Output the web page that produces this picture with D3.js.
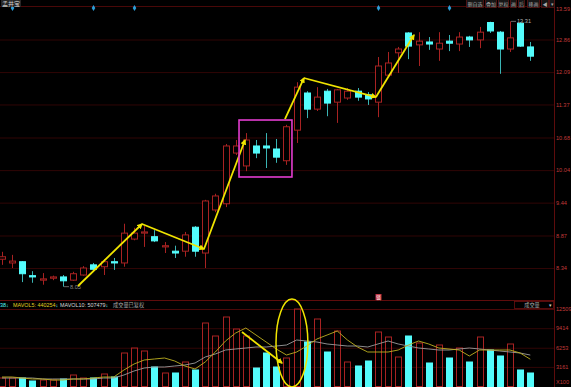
<!DOCTYPE html>
<html>
<head>
<meta charset="utf-8">
<script src="https://cdn.jsdelivr.net/npm/d3@7"></script>
<style>
  body { margin: 0; background: #000; }
  svg { display: block; font-family: "Liberation Sans", Arial, sans-serif; }
</style>
</head>
<body>
<svg id="chart" width="571" height="387"></svg>
<script>
// daily bars
const openP  = [8.48, 8.42, 8.44, 8.22, 8.15, 8.18, 8.20, 8.15, 8.23, 8.39, 8.36, 8.44, 8.42, 8.81, 8.91, 8.85, 8.68, 8.61, 8.61, 9.01,
                8.58, 9.31, 9.42, 10.37, 10.12, 10.51, 10.51, 10.45, 10.22, 10.83, 11.62, 11.27, 11.66, 11.42, 11.51, 11.66, 11.58, 11.42, 12.02, 12.54,
                13.02, 12.73, 12.80, 12.63, 12.82, 12.75, 12.92, 12.85, 13.28, 13.04, 12.63, 13.26, 12.68];
const closeP = [8.52, 8.45, 8.25, 8.20, 8.17, 8.20, 8.14, 8.25, 8.34, 8.32, 8.44, 8.42, 8.91, 8.91, 8.93, 8.78, 8.70, 8.58, 8.88, 8.61,
                9.47, 9.56, 10.51, 10.51, 10.63, 10.37, 10.47, 10.29, 10.90, 11.75, 11.27, 11.53, 11.40, 11.69, 11.66, 11.53, 11.49, 12.23, 12.30, 12.63,
                12.70, 12.82, 12.75, 12.77, 12.77, 12.92, 12.85, 13.04, 13.07, 12.63, 12.90, 12.70, 12.46];
const highP  = [8.60, 8.55, 8.45, 8.29, 8.26, 8.22, 8.23, 8.28, 8.37, 8.42, 8.48, 8.50, 9.07, 9.00, 9.03, 8.96, 8.76, 8.70, 8.93, 9.03,
                9.49, 9.60, 10.55, 10.63, 10.77, 10.63, 10.77, 10.65, 10.94, 11.86, 11.66, 11.75, 11.71, 11.71, 11.73, 11.73, 11.64, 12.44, 12.56, 12.68,
                13.04, 13.04, 12.92, 13.04, 12.97, 13.04, 12.95, 13.17, 13.30, 13.07, 13.31, 13.29, 12.80];
const lowP   = [8.39, 8.34, 8.12, 8.11, 8.08, 8.15, 8.05, 8.14, 8.22, 8.28, 8.23, 8.31, 8.36, 8.79, 8.68, 8.76, 8.58, 8.50, 8.52, 8.52,
                8.34, 9.27, 9.36, 10.33, 10.02, 10.27, 10.08, 10.18, 10.14, 10.57, 11.08, 11.23, 11.12, 10.98, 11.47, 11.45, 11.36, 11.10, 11.98, 12.07,
                12.39, 12.23, 12.61, 12.35, 12.58, 12.58, 12.68, 12.65, 13.02, 12.05, 12.56, 12.68, 12.35];
// volume in lots (x100)
const volume = [1372, 1372, 1372, 888, 1049, 1049, 1211, 1856, 1372, 1372, 2018, 1533, 5407, 6214, 5730, 3147, 2179, 2179, 3954, 2663,
                10249, 8151, 11217, 9281, 8151, 2986, 5407, 3147, 4600, 12509, 7182, 10895, 5568, 8958, 3954, 3309, 4116, 8796, 7989, 4761,
                8151, 7021, 3793, 6698, 4600, 6214, 3954, 7989, 5891, 4923, 6860, 2663, 2179];
const mavol5 = [1533, 1533, 1372, 1211, 1211, 1049, 1049, 1211, 1211, 1372, 1533, 1533, 2663, 3632, 4277, 4439, 4600, 4116, 3309, 2825,
                3954, 5568, 7344, 8635, 9442, 8312, 7182, 6053, 5084, 5568, 6537, 7667, 8312, 8958, 7505, 6375, 5568, 5568, 5568, 5891,
                6698, 7344, 6860, 6214, 6053, 5891, 4923, 5891, 5891, 5891, 5891, 5407, 4403];
const mavol10 = [1372, 1372, 1372, 1372, 1211, 1211, 1211, 1211, 1211, 1211, 1372, 1372, 1856, 2502, 2986, 3147, 3147, 3309, 3470, 3793,
                 4761, 5246, 5891, 6053, 6214, 6375, 6375, 6537, 6698, 7505, 7344, 7182, 6860, 6698, 6537, 6537, 6375, 6860, 7344, 6860,
                 6537, 6214, 6053, 5891, 5891, 6053, 6214, 6053, 5891, 5730, 5568, 5407, 5075];

const priceTicks = [13.59, 12.86, 12.09, 11.37, 10.68, 10.04, 9.44, 8.87, 8.34];
const volTicks = [12509, 9414, 6253, 3161];
const markerIdx = [1, 9, 13, 37, 44];
const highIdx = 50, lowIdx = 6;

// hand drawn annotations, in [bar index, price]
const arrowFrom = [[7.48, 8.06], [13.78, 9.065], [19.88, 8.646], [27.85, 11.06], [29.72, 11.955], [36.81, 11.532]];
const arrowTo   = [[13.78, 9.065], [19.88, 8.646], [23.92, 10.63], [29.72, 11.955], [36.81, 11.532], [40.55, 12.97]];
const boxIdx = [23.33, 28.54], boxPrice = [11.04, 9.91];
// in [bar index, volume]
const volArrow = [[23.62, 8796], [27.56, 3793]];
const ellipse = { idx: 28.54, vol: 7021, idxR: 1.57, volTop: 14123 };

const RED = '#a82222', CYAN = '#54fcfc', CYAN_WICK = '#3ab4b4', GRID = '#300505',
      LINE = '#5e0c0c', AXIS_TXT = '#c23a3a', YEL = '#f0e400';

const svg = d3.select('#chart');
svg.append('rect').attr('width', 571).attr('height', 387).attr('fill', '#000');

const n = openP.length;
const axisX = 554;
const x = d3.scaleLinear().domain([0, n - 1]).range([2, 530.3]);
const y = d3.scaleLog().domain([8.34, 12.86]).range([268, 39.5]);
const yv = d3.scaleLinear().domain([0, 12509]).range([386.5, 309]);
const cx = i => Math.round(x(i));

// grid lines
svg.append('g').attr('transform', `translate(${axisX},0)`)
  .call(d3.axisLeft(y).tickValues(priceTicks.slice(1)).tickSize(axisX).tickFormat(''))
  .call(g => g.select('.domain').remove())
  .selectAll('line').attr('stroke', GRID);
svg.append('g').attr('transform', `translate(${axisX},0)`)
  .call(d3.axisLeft(yv).tickValues(volTicks.slice(1)).tickSize(axisX).tickFormat(''))
  .call(g => g.select('.domain').remove())
  .selectAll('line').attr('stroke', GRID);

svg.append('line').attr('x1', 0).attr('x2', axisX).attr('y1', 6.5).attr('y2', 6.5).attr('stroke', '#4a0808');
svg.append('line').attr('x1', 0).attr('x2', axisX).attr('y1', 300.5).attr('y2', 300.5).attr('stroke', LINE);
svg.append('line').attr('x1', 0).attr('x2', axisX).attr('y1', 309.5).attr('y2', 309.5).attr('stroke', '#4a0808');
svg.append('line').attr('x1', axisX + 0.5).attr('x2', axisX + 0.5).attr('y1', 0).attr('y2', 387).attr('stroke', LINE);

// right axes
const pAxis = svg.append('g').attr('transform', `translate(${axisX},0)`)
  .call(d3.axisRight(y).tickValues(priceTicks).tickSize(0).tickPadding(2).tickFormat(d3.format('.2f')));
pAxis.select('.domain').remove();
pAxis.selectAll('text').attr('fill', AXIS_TXT).style('font-size', '5.6px');
pAxis.selectAll('.tick').filter(d => d === priceTicks[0]).attr('transform', `translate(0,${Math.max(y(priceTicks[0]), 7)})`);
pAxis.selectAll('.tick').filter(d => d === priceTicks[0]).select('text').attr('dy', '0.1em');

const vAxis = svg.append('g').attr('transform', `translate(${axisX},0)`)
  .call(d3.axisRight(yv).tickValues(volTicks).tickSize(0).tickPadding(2).tickFormat(d3.format('d')));
vAxis.select('.domain').remove();
vAxis.selectAll('text').attr('fill', AXIS_TXT).style('font-size', '5.6px');
svg.append('text').attr('x', axisX + 2).attr('y', 384).text('X100')
  .attr('fill', AXIS_TXT).style('font-size', '5.6px');

// candles
const idx = d3.range(n);
const up = i => closeP[i] >= openP[i];
svg.append('g').selectAll('line').data(idx).join('line')
  .attr('x1', i => cx(i) + 0.5).attr('x2', i => cx(i) + 0.5)
  .attr('y1', i => y(highP[i])).attr('y2', i => y(lowP[i]))
  .attr('stroke', i => up(i) ? RED : CYAN_WICK);
svg.append('g').selectAll('rect').data(idx).join('rect')
  .attr('x', i => cx(i) - 2.5).attr('width', 6)
  .attr('y', i => Math.min(y(openP[i]), y(closeP[i])))
  .attr('height', i => Math.max(Math.abs(y(openP[i]) - y(closeP[i])), 1))
  .attr('fill', i => up(i) ? '#000' : CYAN)
  .attr('stroke', i => up(i) ? RED : CYAN);

// volume
svg.append('g').selectAll('rect').data(idx).join('rect')
  .attr('x', i => cx(i) - 2.5).attr('width', 6)
  .attr('y', i => yv(volume[i]))
  .attr('height', i => yv(0) - yv(volume[i]))
  .attr('fill', i => up(i) ? 'none' : CYAN)
  .attr('stroke', i => up(i) ? RED : CYAN);

svg.append('path').datum(idx)
  .attr('d', d3.line().x(i => x(i)).y(i => yv(mavol10[i])))
  .attr('fill', 'none').attr('stroke', '#9c9c9c').attr('stroke-width', 0.9);
svg.append('path').datum(idx)
  .attr('d', d3.line().x(i => x(i)).y(i => yv(mavol5[i])))
  .attr('fill', 'none').attr('stroke', '#bdb020').attr('stroke-width', 0.9);

// event markers at top
svg.append('g').selectAll('path').data(markerIdx).join('path')
  .attr('transform', i => `translate(${cx(i) + 0.5},8)`)
  .attr('d', d3.symbol(d3.symbolDiamond, 11))
  .attr('fill', '#2c9ed8');

// high / low labels
const gray = '#b0b0b0';
svg.append('line').attr('x1', cx(highIdx) + 1).attr('x2', cx(highIdx) + 6)
  .attr('y1', y(highP[highIdx])).attr('y2', y(highP[highIdx])).attr('stroke', gray).attr('stroke-width', 0.6);
svg.append('text').attr('x', cx(highIdx) + 7).attr('y', y(highP[highIdx]) + 2)
  .text(highP[highIdx].toFixed(2)).attr('fill', gray).style('font-size', '5.6px');
svg.append('line').attr('x1', cx(lowIdx) + 1).attr('x2', cx(lowIdx) + 6)
  .attr('y1', y(lowP[lowIdx])).attr('y2', y(lowP[lowIdx])).attr('stroke', gray).attr('stroke-width', 0.6);
svg.append('text').attr('x', cx(lowIdx) + 7).attr('y', y(lowP[lowIdx]) + 2)
  .text(lowP[lowIdx].toFixed(2)).attr('fill', '#8a8a8a').style('font-size', '5.6px');

// annotations
svg.append('defs').append('marker').attr('id', 'arr')
  .attr('viewBox', '0 0 10 10').attr('refX', 8).attr('refY', 5)
  .attr('markerWidth', 3.2).attr('markerHeight', 3.2).attr('orient', 'auto')
  .append('path').attr('d', 'M0,0L10,5L0,10z').attr('fill', YEL);

svg.append('g').selectAll('line').data(d3.range(arrowFrom.length)).join('line')
  .attr('x1', k => x(arrowFrom[k][0])).attr('y1', k => y(arrowFrom[k][1]))
  .attr('x2', k => x(arrowTo[k][0])).attr('y2', k => y(arrowTo[k][1]))
  .attr('stroke', YEL).attr('stroke-width', 1.8).attr('marker-end', 'url(#arr)');

svg.append('rect')
  .attr('x', x(boxIdx[0])).attr('width', x(boxIdx[1]) - x(boxIdx[0]))
  .attr('y', y(boxPrice[0])).attr('height', y(boxPrice[1]) - y(boxPrice[0]))
  .attr('fill', 'none').attr('stroke', '#e23ccf').attr('stroke-width', 1.6);

svg.append('line')
  .attr('x1', x(volArrow[0][0])).attr('y1', yv(volArrow[0][1]))
  .attr('x2', x(volArrow[1][0])).attr('y2', yv(volArrow[1][1]))
  .attr('stroke', YEL).attr('stroke-width', 1.8).attr('marker-end', 'url(#arr)');

svg.append('ellipse')
  .attr('cx', x(ellipse.idx)).attr('cy', yv(ellipse.vol))
  .attr('rx', x(ellipse.idx + ellipse.idxR) - x(ellipse.idx))
  .attr('ry', yv(ellipse.vol) - yv(ellipse.volTop))
  .attr('fill', 'none').attr('stroke', YEL).attr('stroke-width', 1.5);

// header texts
const cjk = '"Noto Sans CJK SC", sans-serif';
svg.append('rect').attr('x', 1).attr('y', 0).attr('width', 20).attr('height', 7).attr('fill', '#262626');
svg.append('text').attr('x', 2).attr('y', 6).text('孟井宝')
  .attr('fill', '#d0d0d0').style('font-size', '6px').style('font-family', cjk);

const toolbar = [['删自选', 466, 17], ['叠加', 485, 11], ['复权', 498, 10], ['画', 510, 6], ['后', 518, 6], ['移画', 527, 12], ['◀', 541, 7], ['▾', 549, 5]];
const tb = svg.append('g');
toolbar.forEach(([t, x0, w]) => {
  tb.append('rect').attr('x', x0 + 0.5).attr('y', -0.5).attr('width', w).attr('height', 8)
    .attr('fill', '#161616').attr('stroke', '#5a1414').attr('stroke-width', 0.8);
  tb.append('text').attr('x', x0 + 0.5 + w / 2).attr('y', 5.8).attr('text-anchor', 'middle').text(t)
    .attr('fill', '#a8a8a8').style('font-size', '5px').style('font-family', cjk);
});

// volume legend
const lg = svg.append('text').attr('y', 307).style('font-size', '5.4px');
lg.append('tspan').attr('x', 0).attr('fill', CYAN).text('38↓');
lg.append('tspan').attr('x', 13).attr('fill', '#e0d020').text('MAVOL5: 440254');
lg.append('tspan').attr('fill', CYAN).text('↓');
lg.append('tspan').attr('x', 60).attr('fill', '#d8d8d8').text('MAVOL10: 507479');
lg.append('tspan').attr('fill', CYAN).text('↓');
svg.append('text').attr('x', 113).attr('y', 307).text('成交量已复权')
  .attr('fill', '#a8a8a8').style('font-size', '5.2px').style('font-family', cjk);

svg.append('rect').attr('x', 514.5).attr('y', 301.5).attr('width', 39).attr('height', 7)
  .attr('fill', '#000').attr('stroke', '#6a1010').attr('stroke-width', 0.8);
svg.append('text').attr('x', 532).attr('y', 307).attr('text-anchor', 'middle').text('成交量')
  .attr('fill', '#a8a8a8').style('font-size', '5.2px').style('font-family', cjk);
svg.append('text').attr('x', 549).attr('y', 307).text('▾').attr('fill', '#d0d0d0').style('font-size', '5px');

// small flag above the volume pane
svg.append('rect').attr('x', cx(37) - 2.5).attr('y', 294).attr('width', 6).attr('height', 6).attr('fill', '#c03040');
svg.append('text').attr('x', cx(37) + 0.5).attr('y', 299).attr('text-anchor', 'middle').text('锁')
  .attr('fill', '#fff').style('font-size', '4.5px').style('font-family', cjk);
</script>
</body>
</html>
